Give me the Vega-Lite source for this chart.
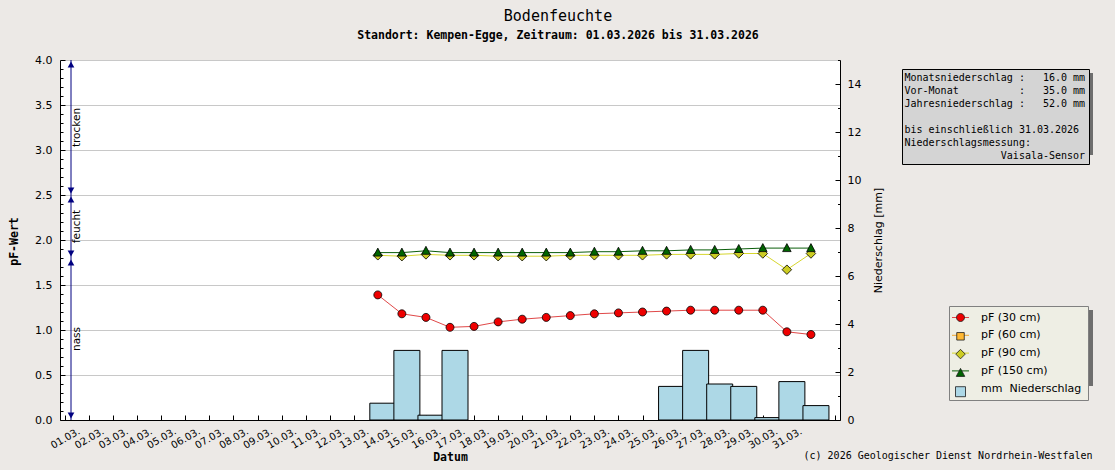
{
  "$schema": "https://vega.github.io/schema/vega-lite/v6.json",
  "width": 780,
  "height": 360,
  "autosize": {"type": "none"},
  "padding": {"left": 60, "top": 60, "right": 275, "bottom": 50},
  "background": "#ece9e6",
  "title": {
    "text": "Bodenfeuchte",
    "subtitle": "Standort: Kempen-Egge, Zeitraum: 01.03.2026 bis 31.03.2026",
    "anchor": "middle",
    "frame": "group",
    "dx": 108,
    "offset": 13,
    "font": "DejaVu Sans Mono",
    "fontSize": 15,
    "fontWeight": "normal",
    "color": "black",
    "subtitleFont": "DejaVu Sans Mono",
    "subtitleFontSize": 11.5,
    "subtitleFontWeight": "bold",
    "subtitleColor": "black",
    "subtitlePadding": 6
  },
  "datasets": {
    "pf": [
      {"zeit": "2026-03-14T00:00:00Z", "tiefe": "30 cm", "pF": 1.39},
      {"zeit": "2026-03-15T00:00:00Z", "tiefe": "30 cm", "pF": 1.18},
      {"zeit": "2026-03-16T00:00:00Z", "tiefe": "30 cm", "pF": 1.14},
      {"zeit": "2026-03-17T00:00:00Z", "tiefe": "30 cm", "pF": 1.03},
      {"zeit": "2026-03-18T00:00:00Z", "tiefe": "30 cm", "pF": 1.04},
      {"zeit": "2026-03-19T00:00:00Z", "tiefe": "30 cm", "pF": 1.09},
      {"zeit": "2026-03-20T00:00:00Z", "tiefe": "30 cm", "pF": 1.12},
      {"zeit": "2026-03-21T00:00:00Z", "tiefe": "30 cm", "pF": 1.14},
      {"zeit": "2026-03-22T00:00:00Z", "tiefe": "30 cm", "pF": 1.16},
      {"zeit": "2026-03-23T00:00:00Z", "tiefe": "30 cm", "pF": 1.18},
      {"zeit": "2026-03-24T00:00:00Z", "tiefe": "30 cm", "pF": 1.19},
      {"zeit": "2026-03-25T00:00:00Z", "tiefe": "30 cm", "pF": 1.20},
      {"zeit": "2026-03-26T00:00:00Z", "tiefe": "30 cm", "pF": 1.21},
      {"zeit": "2026-03-27T00:00:00Z", "tiefe": "30 cm", "pF": 1.22},
      {"zeit": "2026-03-28T00:00:00Z", "tiefe": "30 cm", "pF": 1.22},
      {"zeit": "2026-03-29T00:00:00Z", "tiefe": "30 cm", "pF": 1.22},
      {"zeit": "2026-03-30T00:00:00Z", "tiefe": "30 cm", "pF": 1.22},
      {"zeit": "2026-03-31T00:00:00Z", "tiefe": "30 cm", "pF": 0.98},
      {"zeit": "2026-04-01T00:00:00Z", "tiefe": "30 cm", "pF": 0.95},
      {"zeit": "2026-03-14T00:00:00Z", "tiefe": "90 cm", "pF": 1.83},
      {"zeit": "2026-03-15T00:00:00Z", "tiefe": "90 cm", "pF": 1.82},
      {"zeit": "2026-03-16T00:00:00Z", "tiefe": "90 cm", "pF": 1.84},
      {"zeit": "2026-03-17T00:00:00Z", "tiefe": "90 cm", "pF": 1.83},
      {"zeit": "2026-03-18T00:00:00Z", "tiefe": "90 cm", "pF": 1.83},
      {"zeit": "2026-03-19T00:00:00Z", "tiefe": "90 cm", "pF": 1.82},
      {"zeit": "2026-03-20T00:00:00Z", "tiefe": "90 cm", "pF": 1.82},
      {"zeit": "2026-03-21T00:00:00Z", "tiefe": "90 cm", "pF": 1.82},
      {"zeit": "2026-03-22T00:00:00Z", "tiefe": "90 cm", "pF": 1.83},
      {"zeit": "2026-03-23T00:00:00Z", "tiefe": "90 cm", "pF": 1.83},
      {"zeit": "2026-03-24T00:00:00Z", "tiefe": "90 cm", "pF": 1.83},
      {"zeit": "2026-03-25T00:00:00Z", "tiefe": "90 cm", "pF": 1.83},
      {"zeit": "2026-03-26T00:00:00Z", "tiefe": "90 cm", "pF": 1.84},
      {"zeit": "2026-03-27T00:00:00Z", "tiefe": "90 cm", "pF": 1.84},
      {"zeit": "2026-03-28T00:00:00Z", "tiefe": "90 cm", "pF": 1.84},
      {"zeit": "2026-03-29T00:00:00Z", "tiefe": "90 cm", "pF": 1.85},
      {"zeit": "2026-03-30T00:00:00Z", "tiefe": "90 cm", "pF": 1.85},
      {"zeit": "2026-03-31T00:00:00Z", "tiefe": "90 cm", "pF": 1.67},
      {"zeit": "2026-04-01T00:00:00Z", "tiefe": "90 cm", "pF": 1.85},
      {"zeit": "2026-03-14T00:00:00Z", "tiefe": "150 cm", "pF": 1.86},
      {"zeit": "2026-03-15T00:00:00Z", "tiefe": "150 cm", "pF": 1.86},
      {"zeit": "2026-03-16T00:00:00Z", "tiefe": "150 cm", "pF": 1.88},
      {"zeit": "2026-03-17T00:00:00Z", "tiefe": "150 cm", "pF": 1.86},
      {"zeit": "2026-03-18T00:00:00Z", "tiefe": "150 cm", "pF": 1.86},
      {"zeit": "2026-03-19T00:00:00Z", "tiefe": "150 cm", "pF": 1.86},
      {"zeit": "2026-03-20T00:00:00Z", "tiefe": "150 cm", "pF": 1.86},
      {"zeit": "2026-03-21T00:00:00Z", "tiefe": "150 cm", "pF": 1.86},
      {"zeit": "2026-03-22T00:00:00Z", "tiefe": "150 cm", "pF": 1.86},
      {"zeit": "2026-03-23T00:00:00Z", "tiefe": "150 cm", "pF": 1.87},
      {"zeit": "2026-03-24T00:00:00Z", "tiefe": "150 cm", "pF": 1.87},
      {"zeit": "2026-03-25T00:00:00Z", "tiefe": "150 cm", "pF": 1.88},
      {"zeit": "2026-03-26T00:00:00Z", "tiefe": "150 cm", "pF": 1.88},
      {"zeit": "2026-03-27T00:00:00Z", "tiefe": "150 cm", "pF": 1.89},
      {"zeit": "2026-03-28T00:00:00Z", "tiefe": "150 cm", "pF": 1.89},
      {"zeit": "2026-03-29T00:00:00Z", "tiefe": "150 cm", "pF": 1.90},
      {"zeit": "2026-03-30T00:00:00Z", "tiefe": "150 cm", "pF": 1.91},
      {"zeit": "2026-03-31T00:00:00Z", "tiefe": "150 cm", "pF": 1.91},
      {"zeit": "2026-04-01T00:00:00Z", "tiefe": "150 cm", "pF": 1.91}
    ],
    "regen": [
      {"zeit": "2026-03-14T00:00:00Z", "mm": 0.7},
      {"zeit": "2026-03-15T00:00:00Z", "mm": 2.9},
      {"zeit": "2026-03-16T00:00:00Z", "mm": 0.2},
      {"zeit": "2026-03-17T00:00:00Z", "mm": 2.9},
      {"zeit": "2026-03-26T00:00:00Z", "mm": 1.4},
      {"zeit": "2026-03-27T00:00:00Z", "mm": 2.9},
      {"zeit": "2026-03-28T00:00:00Z", "mm": 1.5},
      {"zeit": "2026-03-29T00:00:00Z", "mm": 1.4},
      {"zeit": "2026-03-30T00:00:00Z", "mm": 0.1},
      {"zeit": "2026-03-31T00:00:00Z", "mm": 1.6},
      {"zeit": "2026-04-01T00:00:00Z", "mm": 0.6}
    ],
    "zonen": [
      {"zone": "trocken", "von": 2.5, "bis": 4.0, "mitte": 3.25},
      {"zone": "feucht", "von": 1.8, "bis": 2.5, "mitte": 2.15},
      {"zone": "nass", "von": 0.0, "bis": 1.8, "mitte": 0.9}
    ],
    "info": [
      {"zeile": "Monatsniederschlag\u00a0:\u00a0\u00a0\u00a016.0\u00a0mm"},
      {"zeile": "Vor-Monat\u00a0\u00a0\u00a0\u00a0\u00a0\u00a0\u00a0\u00a0\u00a0\u00a0:\u00a0\u00a0\u00a035.0\u00a0mm"},
      {"zeile": "Jahresniederschlag\u00a0:\u00a0\u00a0\u00a052.0\u00a0mm"},
      {"zeile": "\u200b"},
      {"zeile": "bis\u00a0einschließlich\u00a031.03.2026"},
      {"zeile": "Niederschlagsmessung:"},
      {"zeile": "\u200b\u00a0\u00a0\u00a0\u00a0\u00a0\u00a0\u00a0\u00a0\u00a0\u00a0\u00a0\u00a0\u00a0\u00a0\u00a0\u00a0Vaisala-Sensor"}
    ]
  },
  "layer": [
    {
      "data": {"values": [{}]},
      "mark": {"type": "point"},
      "encoding": {
        "opacity": {
          "datum": "s1", "type": "nominal",
          "scale": {"domain": ["s1", "s2", "s3", "s4", "s5"], "range": [0, 0, 0, 0, 0]},
          "legend": {
            "orient": "none", "legendX": 893, "legendY": 250, "title": null,
            "symbolSize": 100, "symbolStrokeWidth": 1, "symbolOpacity": 0,
            "labelFont": "DejaVu Sans", "labelFontSize": 11, "labelOffset": 116.5,
            "padding": 6, "rowPadding": 5.8, "fillColor": "#6e6e6e",
            "labelExpr": "'\u200b'"
          }
        },
        "size": {
          "datum": "t1", "type": "nominal",
          "scale": {"domain": ["t1", "t2", "t3", "t4", "t5", "t6", "t7"], "range": [0, 0, 0, 0, 0, 0, 0]},
          "legend": {
            "orient": "none", "legendX": 846, "legendY": 13, "title": null,
            "symbolSize": 0, "symbolOpacity": 0, "symbolStrokeWidth": 0,
            "labelFont": "DejaVu Sans Mono", "labelFontSize": 10, "labelOffset": 169.6, "labelLimit": 0,
            "padding": 3.5, "rowPadding": 3, "fillColor": "#6e6e6e",
            "labelExpr": "'\u200b'"
          }
        }
      }
    },
    {
      "data": {"name": "pf"},
      "mark": {"type": "line", "strokeWidth": 1},
      "encoding": {
        "x": {"field": "zeit", "type": "temporal", "axis": null,
              "scale": {"type": "utc", "domain": [{"year": 2026, "month": 3, "date": 1, "utc": true}, {"year": 2026, "month": 4, "date": 2, "utc": true}]}},
        "y": {"field": "pF", "type": "quantitative", "axis": null, "scale": {"domain": [0, 4], "nice": false}},
        "stroke": {
          "field": "tiefe", "type": "nominal",
          "scale": {"domain": ["30 cm", "60 cm", "90 cm", "150 cm", "Niederschlag"], "range": ["#e04848", "#f0a830", "#d6d62e", "#0b5e0b", "transparent"]},
          "legend": {
            "orient": "none", "legendX": 889, "legendY": 246, "title": null,
            "symbolType": "M-1.7,0H1.7", "symbolSize": 100, "symbolStrokeWidth": 1,
            "labelFont": "DejaVu Sans", "labelFontSize": 11, "labelColor": "black", "labelOffset": 15,
            "padding": 6, "rowPadding": 5.8, "fillColor": "#eeeee4", "strokeColor": "#808080",
            "labelExpr": "datum.label == 'Niederschlag' ? 'mm\u00a0\u00a0Niederschlag' : 'pF (' + datum.label + ')'"
          }
        }
      }
    },
    {
      "data": {"name": "regen"},
      "mark": {"type": "bar", "width": 26, "xOffset": 5, "stroke": "black", "strokeWidth": 1},
      "encoding": {
        "x": {"field": "zeit", "type": "temporal",
              "scale": {"type": "utc", "domain": [{"year": 2026, "month": 3, "date": 1, "utc": true}, {"year": 2026, "month": 4, "date": 2, "utc": true}]},
              "axis": {
                "orient": "bottom", "tickCount": {"interval": "day", "step": 1},
                "labelExpr": "utcmonth(datum.value) == 2 ? utcFormat(datum.value, '%d.%m.') : ''",
                "labelAngle": -30, "labelAlign": "center", "labelBaseline": "middle", "labelPadding": 23,
                "tickSize": -5, "labelFont": "DejaVu Sans", "labelFontSize": 10,
                "labelOverlap": false, "labelFlush": false, "labelBound": false, "grid": false,
                "domainColor": "black", "tickColor": "black", "labelColor": "black",
                "title": "Datum", "titleFont": "DejaVu Sans Mono", "titleFontSize": 11.5, "titleFontWeight": "bold", "titleColor": "black",
                "titleX": 390, "titleY": 40, "titleAlign": "center", "titleBaseline": "alphabetic"
              }},
        "y": {"field": "mm", "type": "quantitative",
              "scale": {"domain": [0, 15], "nice": false},
              "axis": {
                "orient": "right", "values": [0, 1, 2, 3, 4, 5, 6, 7, 8, 9, 10, 11, 12, 13, 14, 15],
                "labelExpr": "datum.value % 2 == 0 ? datum.label : ''",
                "tickSize": {"condition": {"test": "datum.value % 2 == 0", "value": -5}, "value": -2.5},
                "grid": false, "labelPadding": 12, "labelFont": "DejaVu Sans", "labelFontSize": 11,
                "labelFlush": false, "labelOverlap": false, "domainColor": "black", "tickColor": "black", "labelColor": "black",
                "title": "Niederschlag [mm]", "titleFont": "DejaVu Sans", "titleFontSize": 11, "titleFontWeight": "normal", "titleColor": "black",
                "titleAngle": 270, "titleX": 38, "titleY": 180, "titleAlign": "center", "titleBaseline": "middle"
              }},
        "fill": {
          "datum": "Niederschlag", "type": "nominal",
          "scale": {"domain": ["30 cm", "60 cm", "90 cm", "150 cm", "Niederschlag", ""], "range": ["#ee0000", "#ffb833", "#cccc22", "#006400", "#add8e6", "transparent"]},
          "legend": {
            "orient": "none", "legendX": 889, "legendY": 246, "title": null,
            "symbolSize": 100, "symbolStrokeColor": "#1a1a1a", "symbolStrokeWidth": 0.8,
            "labelFont": "DejaVu Sans", "labelFontSize": 11, "labelOpacity": 0, "labelOffset": 15,
            "padding": 6, "rowPadding": 5.8, "labelExpr": "'\u200b'"
          }
        }
      }
    },
    {
      "data": {"name": "zonen"},
      "mark": {"type": "rule", "color": "#000080", "strokeWidth": 1, "xOffset": 6},
      "encoding": {
        "x": {"datum": {"year": 2026, "month": 3, "date": 1, "utc": true}, "type": "temporal", "axis": null,
              "scale": {"type": "utc", "domain": [{"year": 2026, "month": 3, "date": 1, "utc": true}, {"year": 2026, "month": 4, "date": 2, "utc": true}]}},
        "y": {"field": "von", "type": "quantitative", "axis": null, "scale": {"domain": [0, 4], "nice": false}},
        "y2": {"field": "bis"}
      }
    },
    {
      "data": {"name": "zonen"},
      "mark": {"type": "point", "shape": "triangle-up", "filled": true, "color": "#000080", "opacity": 1, "size": 45, "xOffset": 6, "yOffset": 4.5},
      "encoding": {
        "x": {"datum": {"year": 2026, "month": 3, "date": 1, "utc": true}, "type": "temporal", "axis": null,
              "scale": {"type": "utc", "domain": [{"year": 2026, "month": 3, "date": 1, "utc": true}, {"year": 2026, "month": 4, "date": 2, "utc": true}]}},
        "y": {"field": "bis", "type": "quantitative", "axis": null, "scale": {"domain": [0, 4], "nice": false}}
      }
    },
    {
      "data": {"name": "zonen"},
      "mark": {"type": "point", "shape": "triangle-down", "filled": true, "color": "#000080", "opacity": 1, "size": 45, "xOffset": 6, "yOffset": -4.5},
      "encoding": {
        "x": {"datum": {"year": 2026, "month": 3, "date": 1, "utc": true}, "type": "temporal", "axis": null,
              "scale": {"type": "utc", "domain": [{"year": 2026, "month": 3, "date": 1, "utc": true}, {"year": 2026, "month": 4, "date": 2, "utc": true}]}},
        "y": {"field": "von", "type": "quantitative", "axis": null, "scale": {"domain": [0, 4], "nice": false}}
      }
    },
    {
      "data": {"name": "zonen"},
      "mark": {"type": "text", "angle": 270, "align": "center", "baseline": "top", "xOffset": 6.5, "font": "DejaVu Sans", "fontSize": 10.5, "color": "black"},
      "encoding": {
        "x": {"datum": {"year": 2026, "month": 3, "date": 1, "utc": true}, "type": "temporal", "axis": null,
              "scale": {"type": "utc", "domain": [{"year": 2026, "month": 3, "date": 1, "utc": true}, {"year": 2026, "month": 4, "date": 2, "utc": true}]}},
        "y": {"field": "mitte", "type": "quantitative", "axis": null, "scale": {"domain": [0, 4], "nice": false}},
        "text": {"field": "zone"}
      }
    },
    {
      "data": {"name": "pf"},
      "mark": {"type": "point", "filled": true, "size": 100, "stroke": "black", "strokeWidth": 0.8, "opacity": 1},
      "encoding": {
        "x": {"field": "zeit", "type": "temporal",
              "scale": {"type": "utc", "domain": [{"year": 2026, "month": 3, "date": 1, "utc": true}, {"year": 2026, "month": 4, "date": 2, "utc": true}]},
              "axis": {
                "orient": "bottom", "labels": false, "ticks": false, "domain": false, "grid": false,
                "title": "(c) 2026 Geologischer Dienst Nordrhein-Westfalen",
                "titleFont": "DejaVu Sans Mono", "titleFontSize": 10, "titleFontWeight": "normal", "titleColor": "black",
                "titleX": 1032, "titleY": 38, "titleAlign": "right", "titleBaseline": "alphabetic"
              }},
        "y": {"field": "pF", "type": "quantitative",
              "scale": {"domain": [0, 4], "nice": false},
              "axis": {
                "orient": "left",
                "values": [0, 0.1, 0.2, 0.3, 0.4, 0.5, 0.6, 0.7, 0.8, 0.9, 1, 1.1, 1.2, 1.3, 1.4, 1.5, 1.6, 1.7, 1.8, 1.9, 2, 2.1, 2.2, 2.3, 2.4, 2.5, 2.6, 2.7, 2.8, 2.9, 3, 3.1, 3.2, 3.3, 3.4, 3.5, 3.6, 3.7, 3.8, 3.9, 4],
                "labelExpr": "round(datum.value * 10) % 5 == 0 ? format(datum.value, '.1f') : ''",
                "tickSize": {"condition": {"test": "round(datum.value * 10) % 5 == 0", "value": -5}, "value": -3},
                "grid": true, "gridColor": "#c8c8c8",
                "gridOpacity": {"condition": {"test": "round(datum.value * 10) % 5 == 0 && datum.value > 0", "value": 1}, "value": 0},
                "labelPadding": 13, "labelFont": "DejaVu Sans", "labelFontSize": 11, "labelFlush": false, "labelOverlap": false,
                "domainColor": "black", "tickColor": "black", "labelColor": "black",
                "title": "pF-Wert", "titleFont": "DejaVu Sans Mono", "titleFontSize": 11.5, "titleFontWeight": "bold", "titleColor": "black",
                "titleAngle": 270, "titleX": -46, "titleY": 181, "titleAlign": "center", "titleBaseline": "middle"
              }},
        "fill": {
          "field": "tiefe", "type": "nominal",
          "scale": {"domain": ["30 cm", "60 cm", "90 cm", "150 cm", "Niederschlag", ""], "range": ["#ee0000", "#ffb833", "#cccc22", "#006400", "#add8e6", "transparent"]},
          "legend": {
            "orient": "none", "legendX": 889, "legendY": 246, "title": null,
            "symbolSize": 100, "symbolStrokeColor": "#1a1a1a", "symbolStrokeWidth": 0.8,
            "labelFont": "DejaVu Sans", "labelFontSize": 11, "labelOpacity": 0, "labelOffset": 15,
            "padding": 6, "rowPadding": 5.8, "labelExpr": "'\u200b'"
          }
        },
        "shape": {
          "field": "tiefe", "type": "nominal",
          "scale": {
            "domain": ["30 cm", "60 cm", "90 cm", "150 cm", "Niederschlag", ""],
            "range": [
              "M-0.8,0A0.8,0.8,0,1,1,0.8,0A0.8,0.8,0,1,1,-0.8,0Z",
              "M-0.75,-0.75H0.75V0.75H-0.75Z",
              "M0,-0.95L0.95,0L0,0.95L-0.95,0Z",
              "M0,-0.9L0.85,0.7H-0.85Z",
              "M-1,-1H1V1H-1Z",
              "M0,0"
            ]
          },
          "legend": {
            "orient": "none", "legendX": 889, "legendY": 246, "title": null,
            "symbolSize": 100, "symbolStrokeColor": "#1a1a1a", "symbolStrokeWidth": 0.8,
            "labelFont": "DejaVu Sans", "labelFontSize": 11, "labelOpacity": 0, "labelOffset": 15,
            "padding": 6, "rowPadding": 5.8, "labelExpr": "'\u200b'"
          }
        }
      }
    },
    {
      "data": {"name": "info"},
      "mark": {"type": "point", "opacity": 0},
      "encoding": {
        "color": {
          "field": "zeile", "type": "nominal", "sort": null,
          "scale": {"range": ["transparent"]},
          "legend": {
            "orient": "none", "legendX": 842, "legendY": 9, "title": null,
            "symbolSize": 0, "symbolOpacity": 0, "symbolStrokeWidth": 0,
            "labelFont": "DejaVu Sans Mono", "labelFontSize": 10, "labelColor": "black", "labelOffset": -11, "labelLimit": 0,
            "padding": 3.5, "rowPadding": 3, "fillColor": "#d4d4d4", "strokeColor": "black"
          }
        }
      }
    }
  ],
  "resolve": {
    "scale": {"y": "independent"},
    "axis": {"x": "independent", "y": "independent"}
  },
  "config": {
    "view": {"stroke": null, "fill": "white"},
    "font": "DejaVu Sans"
  }
}
